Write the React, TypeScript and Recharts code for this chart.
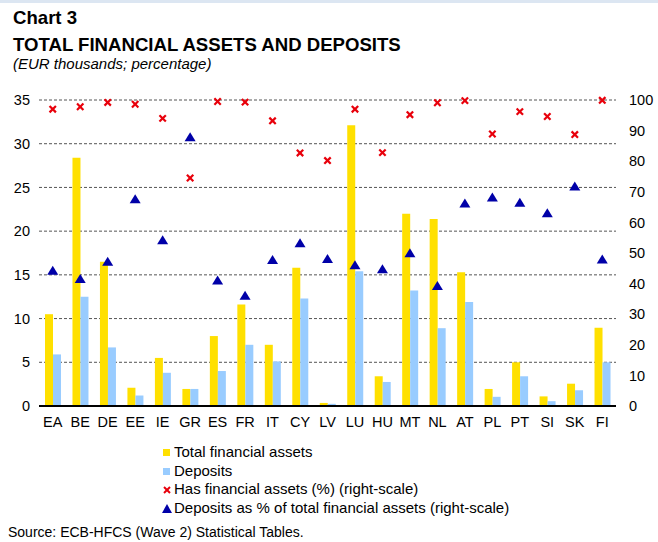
import React from 'react';
import { ComposedChart, Bar, Line, XAxis, YAxis, CartesianGrid } from 'recharts';

const categories = ['EA', 'BE', 'DE', 'EE', 'IE', 'GR', 'ES', 'FR', 'IT', 'CY', 'LV', 'LU', 'HU', 'MT', 'NL', 'AT', 'PL', 'PT', 'SI', 'SK', 'FI'];
const totalAssets = [10.5, 28.4, 16.5, 2.1, 5.5, 1.95, 8.0, 11.6, 7.0, 15.8, 0.35, 32.1, 3.4, 22.0, 21.4, 15.3, 1.95, 5.0, 1.1, 2.55, 8.95];
const deposits = [5.9, 12.5, 6.7, 1.2, 3.8, 1.95, 4.0, 7.0, 5.1, 12.3, 0.25, 15.4, 2.75, 13.2, 8.9, 11.9, 1.05, 3.4, 0.55, 1.8, 5.0];
const hasAssets = [97.0, 97.8, 99.2, 98.6, 94.0, 74.5, 99.5, 99.3, 93.2, 82.7, 80.2, 97.0, 82.8, 95.2, 99.1, 99.8, 88.9, 96.2, 94.6, 88.7, 99.9];
const depositShare = [44.2, 41.5, 47.1, 67.6, 54.2, 87.8, 41.0, 36.0, 47.7, 53.2, 48.0, 46.0, 44.7, 49.9, 39.2, 66.2, 68.1, 66.4, 63.0, 71.7, 47.9];

const leftTicks = [0, 5, 10, 15, 20, 25, 30, 35];
const rightTicks = [0, 10, 20, 30, 40, 50, 60, 70, 80, 90, 100];

const YELLOW = '#ffe000';
const LIGHT_BLUE = '#99ccff';
const RED = '#e8000b';
const NAVY = '#0000a8';
const FONT = '"Liberation Sans", Arial, sans-serif';

const data = categories.map((cat, i) => ({
  cat,
  total: totalAssets[i],
  deposits: deposits[i],
  has: hasAssets[i],
  share: depositShare[i],
}));

const CrossDot = (props: any) => {
  const { cx, cy, index } = props;
  if (cx == null || cy == null) return null;
  const s = 3.2;
  return (
    <g key={`x-${index}`}>
      <line x1={cx - s} y1={cy - s} x2={cx + s} y2={cy + s} stroke={RED} strokeWidth={2.2} />
      <line x1={cx - s} y1={cy + s} x2={cx + s} y2={cy - s} stroke={RED} strokeWidth={2.2} />
    </g>
  );
};

const TriangleDot = (props: any) => {
  const { cx, cy, index } = props;
  if (cx == null || cy == null) return null;
  return (
    <path
      key={`t-${index}`}
      d={`M${cx},${cy - 5} L${cx + 5.5},${cy + 4} L${cx - 5.5},${cy + 4} Z`}
      fill={NAVY}
    />
  );
};

const legendItems = [
  { label: 'Total financial assets', kind: 'box', color: YELLOW },
  { label: 'Deposits', kind: 'box', color: LIGHT_BLUE },
  { label: 'Has financial assets (%) (right-scale)', kind: 'cross', color: RED },
  { label: 'Deposits as % of total financial assets (right-scale)', kind: 'tri', color: NAVY },
];

const LegendBlock = () => (
  <div style={{ fontFamily: FONT, fontSize: 15, color: '#000', lineHeight: '18.5px' }}>
    {legendItems.map((it) => (
      <div key={it.label} style={{ display: 'flex', alignItems: 'center' }}>
        <svg width={10} height={10} style={{ marginRight: 2 }}>
          {it.kind === 'box' && <rect x={1} y={2} width={7} height={7} fill={it.color} />}
          {it.kind === 'cross' && (
            <g stroke={it.color} strokeWidth={2}>
              <line x1={2} y1={3} x2={8} y2={9} />
              <line x1={2} y1={9} x2={8} y2={3} />
            </g>
          )}
          {it.kind === 'tri' && <path d="M5,1 L10,10 L0,10 Z" fill={it.color} />}
        </svg>
        <span>{it.label}</span>
      </div>
    ))}
  </div>
);

export default function App() {
  return (
    <div style={{ position: 'absolute', left: 0, top: 0, width: 658, height: 542, background: '#fff', fontFamily: FONT }}>
      <div style={{ position: 'absolute', left: 0, top: 0, width: 658, height: 3, background: '#dce6f2' }} />
      <div style={{ position: 'absolute', left: 13, top: 8, fontSize: 18.6, fontWeight: 'bold', lineHeight: '20px' }}>Chart 3</div>
      <div style={{ position: 'absolute', left: 13, top: 35, fontSize: 18.6, fontWeight: 'bold', lineHeight: '20px', whiteSpace: 'nowrap' }}>
        TOTAL FINANCIAL ASSETS AND DEPOSITS
      </div>
      <div style={{ position: 'absolute', left: 13, top: 56, fontSize: 15, fontStyle: 'italic', lineHeight: '16px', whiteSpace: 'nowrap' }}>
        (EUR thousands; percentage)
      </div>
      <div style={{ position: 'absolute', left: 0, top: 0 }}>
        <ComposedChart
          width={658}
          height={440}
          data={data}
          margin={{ top: 100, right: 0, bottom: 0, left: 0 }}
          barGap={0}
        >
          <CartesianGrid yAxisId="left" vertical={false} stroke="#555" strokeDasharray="3 2" />
          <XAxis
            dataKey="cat"
            interval={0}
            height={34}
            tickLine={false}
            tickSize={0}
            tickMargin={11}
            axisLine={{ stroke: '#000', strokeWidth: 2 }}
            tick={{ fill: '#000', fontSize: 14.5, fontFamily: FONT }}
          />
          <YAxis
            yAxisId="left"
            orientation="left"
            width={39}
            domain={[0, 35]}
            ticks={leftTicks}
            axisLine={false}
            tickLine={false}
            tickSize={0}
            tickMargin={9}
            tick={{ fill: '#000', fontSize: 14.5, fontFamily: FONT }}
          />
          <YAxis
            yAxisId="right"
            orientation="right"
            width={42}
            domain={[0, 100]}
            ticks={rightTicks}
            axisLine={false}
            tickLine={false}
            tickSize={0}
            tickMargin={13}
            tick={{ fill: '#000', fontSize: 14.5, fontFamily: FONT }}
          />
          <Bar yAxisId="left" dataKey="total" name="Total financial assets" fill={YELLOW} barSize={8} isAnimationActive={false} />
          <Bar yAxisId="left" dataKey="deposits" name="Deposits" fill={LIGHT_BLUE} barSize={8} isAnimationActive={false} />
          <Line
            yAxisId="right"
            dataKey="has"
            name="Has financial assets (%) (right-scale)"
            stroke="none"
            dot={CrossDot}
            activeDot={false}
            isAnimationActive={false}
          />
          <Line
            yAxisId="right"
            dataKey="share"
            name="Deposits as % of total financial assets (right-scale)"
            stroke="none"
            dot={TriangleDot}
            activeDot={false}
            isAnimationActive={false}
          />
        </ComposedChart>
      </div>
      <div style={{ position: 'absolute', left: 162, top: 443 }}>
        <LegendBlock />
      </div>
      <div style={{ position: 'absolute', left: 8, top: 524, fontSize: 14, lineHeight: '16px', whiteSpace: 'nowrap' }}>
        Source: ECB-HFCS (Wave 2) Statistical Tables.
      </div>
    </div>
  );
}
